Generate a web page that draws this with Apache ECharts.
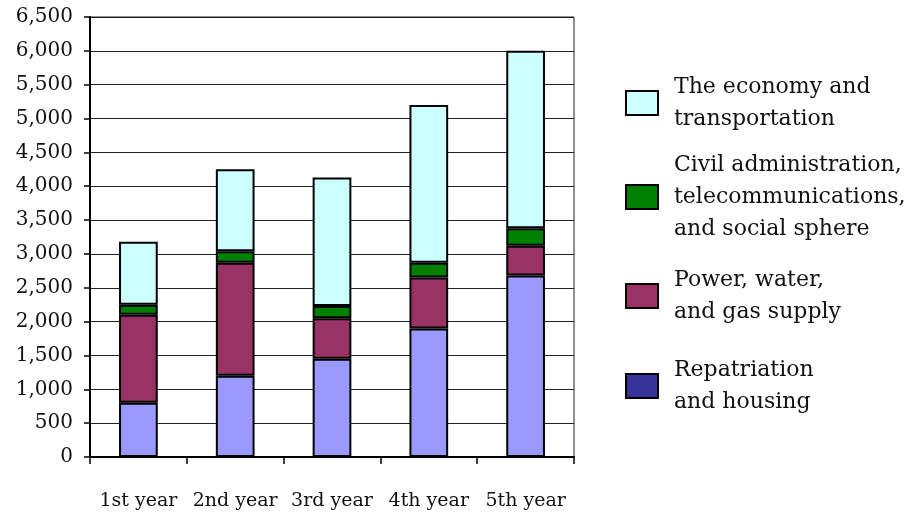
<!DOCTYPE html>
<html><head><meta charset="utf-8">
<script src="https://cdn.jsdelivr.net/npm/echarts@6/dist/echarts.min.js"></script>
<style>html,body{margin:0;padding:0;background:#fff}#c{width:914px;height:515px}</style>
</head><body><div id="c"></div>
<script>
const categories = ['1st year', '2nd year', '3rd year', '4th year', '5th year'];
const repatriation = [800, 1200, 1450, 1900, 2680];
const power = [1300, 1670, 600, 750, 440];
const civil = [150, 170, 180, 220, 260];
const economy = [930, 1210, 1900, 2330, 2620];
const yTicks = { min: 0, max: 6500, interval: 500 };
const names = {
  econ: 'The economy and\ntransportation',
  civil: 'Civil administration,\ntelecommunications,\nand social sphere',
  power: 'Power, water,\nand gas supply',
  rep: 'Repatriation\nand housing'
};

const FONT = 'DejaVu Serif';
const chart = echarts.init(document.getElementById('c'));
const fmt = v => String(v).replace(/\B(?=(\d{3})+(?!\d))/g, ',');
const bar = (name, data, color) => ({
  name, type: 'bar', stack: 's', data, barWidth: '40%',
  itemStyle: { color, borderColor: '#000', borderWidth: 2 },
  emphasis: { disabled: true }, animation: false
});
const leg = (name, top, color) => ({
  orient: 'vertical', left: 620, top, itemWidth: 32, itemHeight: 24,
  data: [{ name, icon: 'rect', itemStyle: { color, borderColor: '#000', borderWidth: 2 } }],
  selectedMode: false,
  textStyle: { fontFamily: FONT, fontSize: 22, lineHeight: 32, color: '#111', padding: [0, 0, 0, 11] }
});
chart.setOption({
  animation: false,
  grid: { left: 90, right: 340, top: 17, bottom: 58, show: true, borderColor: '#222', borderWidth: 1, backgroundColor: 'transparent' },
  legend: [
    leg(names.econ, 66, '#CCFFFF'),
    leg(names.civil, 144, '#008000'),
    leg(names.power, 259, '#993366'),
    leg(names.rep, 349, '#333399')
  ],
  xAxis: {
    type: 'category', data: categories,
    axisLine: { lineStyle: { color: '#000', width: 2 } },
    axisTick: { show: true, length: 7, interval: 0, lineStyle: { color: '#000', width: 1.5 } },
    axisLabel: { fontFamily: FONT, fontSize: 19, color: '#111', margin: 35, interval: 0 },
    splitLine: { show: false }
  },
  yAxis: {
    type: 'value', min: yTicks.min, max: yTicks.max, interval: yTicks.interval,
    axisLine: { show: true, lineStyle: { color: '#000', width: 2 } },
    axisTick: { show: true, length: 6, lineStyle: { color: '#000', width: 1.5 } },
    axisLabel: { fontFamily: FONT, fontSize: 20, color: '#111', margin: 17, formatter: fmt },
    splitLine: { show: true, lineStyle: { color: '#222', width: 1 } }
  },
  series: [
    bar(names.rep, repatriation, '#9999FF'),
    bar(names.power, power, '#993366'),
    bar(names.civil, civil, '#008000'),
    bar(names.econ, economy, '#CCFFFF')
  ]
});
</script></body></html>
